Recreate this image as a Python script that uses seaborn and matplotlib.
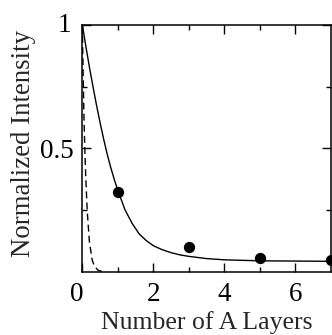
import matplotlib
matplotlib.use("Agg")
import matplotlib.pyplot as plt
import seaborn as sns
import pandas as pd
from matplotlib.ticker import FixedLocator
from matplotlib.transforms import ScaledTranslation

# Data
layers = [1, 3, 5, 7]
intensity = [0.324, 0.102, 0.054, 0.048]

fit_x = [0.0, 0.1, 0.2, 0.3, 0.4, 0.5, 0.6, 0.7, 0.8, 0.9, 1.0, 1.2, 1.4, 1.6, 1.8,
         2.0, 2.25, 2.5, 2.75, 3.0, 3.5, 4.0, 4.5, 5.0, 6.0, 7.0]
fit_y = [1.0, 0.912, 0.828, 0.749, 0.674, 0.603, 0.537, 0.476, 0.422, 0.373, 0.329,
         0.251, 0.196, 0.153, 0.126, 0.105, 0.089, 0.077, 0.068, 0.062, 0.053, 0.048,
         0.046, 0.044, 0.043, 0.042]

dash_x = [0, 0.02, 0.05, 0.075, 0.1, 0.14, 0.2, 0.28, 0.35, 0.45, 0.6]
dash_y = [1.0, 0.82, 0.6, 0.47, 0.37, 0.24, 0.12, 0.045, 0.02, 0.005, 0.0]

xticks = [0, 2, 4, 6]
xminor = [1, 3, 5]
yticks = [0.5, 1.0]
yminor = [0.25, 0.75]
xticklabels = ["0", "2", "4", "6"]
yticklabels = ["0.5", "1"]
xlabel = "Number of A Layers"
ylabel = "Normalized Intensity"

sns.set_theme(style="ticks")
plt.rcParams['font.family'] = ['Liberation Serif', 'DejaVu Serif']

fig = plt.figure(figsize=(3.32, 3.35), dpi=100)
ax = fig.add_axes([0.248, 0.189, 0.749, 0.737])

df_fit = pd.DataFrame({"x": fit_x, "y": fit_y})
df_dash = pd.DataFrame({"x": dash_x, "y": dash_y})
df_pts = pd.DataFrame({"x": layers, "y": intensity})

sns.lineplot(data=df_fit, x="x", y="y", ax=ax, color="black", linewidth=1.0, sort=False)
sns.lineplot(data=df_dash, x="x", y="y", ax=ax, color="black", linewidth=1.0,
             sort=False, linestyle=(0, (5, 3)))
sns.scatterplot(data=df_pts, x="x", y="y", ax=ax, color="black", s=66,
                edgecolor="black", linewidth=0, zorder=5, clip_on=True)

ax.set_xlim(0, 7)
ax.set_ylim(0, 1)
ax.xaxis.set_major_locator(FixedLocator(xticks))
ax.xaxis.set_minor_locator(FixedLocator(xminor))
ax.yaxis.set_major_locator(FixedLocator(yticks))
ax.yaxis.set_minor_locator(FixedLocator(yminor))
ax.set_xticklabels(xticklabels)
ax.set_yticklabels(yticklabels)

ax.tick_params(which="both", direction="in", top=True, right=True, colors="black",
               labelsize=19.5, width=1.0)
ax.tick_params(which="major", length=6.5)
ax.tick_params(which="minor", length=3.5)
ax.tick_params(axis="x", which="major", pad=7.5)
ax.tick_params(axis="y", which="major", pad=6)

# small offsets of the "0" and "1" labels as in the reference
xl = ax.get_xticklabels()
xl[0].set_transform(xl[0].get_transform() + ScaledTranslation(-4 / 72, 0, fig.dpi_scale_trans))
yl = ax.get_yticklabels()
yl[1].set_transform(yl[1].get_transform() + ScaledTranslation(-2 / 72, 1.5 / 72, fig.dpi_scale_trans))

for s in ax.spines.values():
    s.set_visible(True)
    s.set_color("black")
    s.set_linewidth(1.1)

ax.set_xlabel(xlabel, fontsize=18.5, labelpad=2.8)
ax.set_ylabel(ylabel, fontsize=19.3)
ax.yaxis.set_label_coords(-0.188, 0.52)

fig.savefig("out.png", dpi=100)
